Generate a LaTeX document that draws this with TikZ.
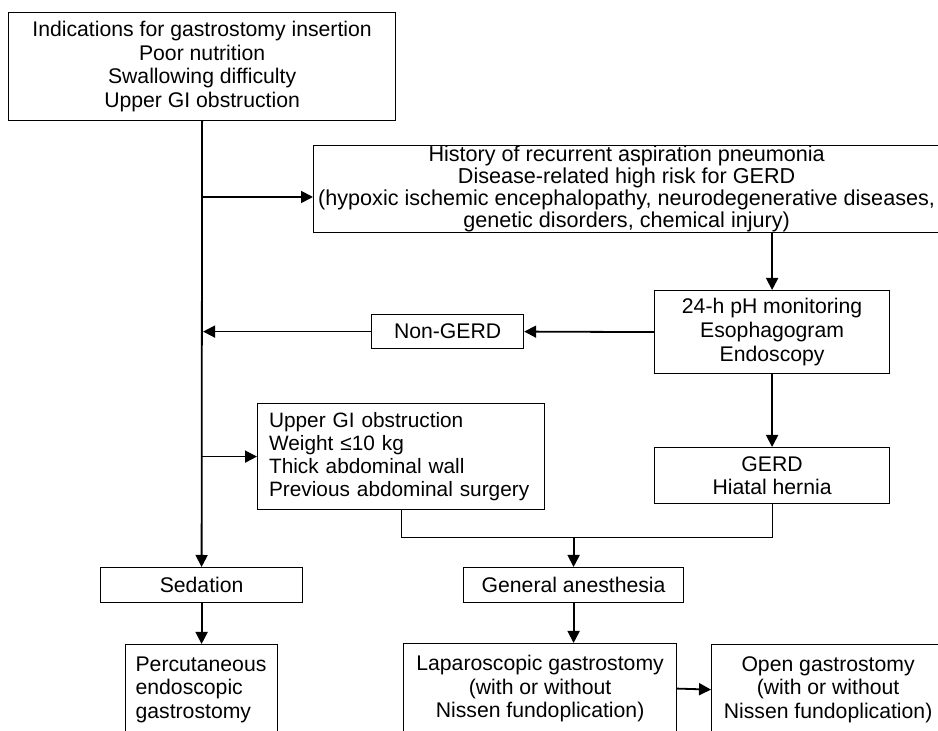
\documentclass[tikz,border=0pt]{standalone}
\usepackage{fontspec}
\setmainfont{Liberation Sans}
\usetikzlibrary{arrows.meta,calc,positioning}

\tikzset{
  flowbox/.style={draw,line width=0.6pt,anchor=north west,inner sep=0pt,align=center,
    font=\fontsize{10.6pt}{11.8pt}\selectfont},
  flowboxl/.style={flowbox,align=left},
  pfeil/.style={line width=0.9pt,-{Triangle[length=6pt,width=6pt]}},
  klammer/.style={line width=0.6pt},
}

\begin{document}
\begin{tikzpicture}[x=0.5pt,y=-0.5pt]
\useasboundingbox (0,0) rectangle (938,731);
\clip (0,0) rectangle (938,731);
%Kaestchen, Ecke oben links in Pixeln
\node[flowbox,minimum width=193.5pt,minimum height=54pt] (ind) at (8,12)
  {Indications for gastrostomy insertion\\Poor nutrition\\Swallowing difficulty\\Upper GI obstruction};
\node[flowbox,minimum width=313pt,minimum height=34pt,font=\fontsize{10.8pt}{9pt}\selectfont] (hist) at (313,145)
  {History of recurrent aspiration pneumonia\\Disease-related high risk for GERD\\(hypoxic ischemic encephalopathy, neurodegenerative diseases,\\genetic disorders, chemical injury)};
\node[flowbox,minimum width=117.5pt,minimum height=41.5pt] (ph) at (654,290)
  {24-h pH monitoring\\Esophagogram\\Endoscopy};
\node[flowbox,minimum width=76pt,minimum height=17pt] (nong) at (371,314) {Non-GERD};
\node[flowboxl,text width=132pt,inner xsep=5.75pt,minimum height=53pt,font=\fontsize{10.4pt}{11.6pt}\selectfont] (upgi) at (257,403)
  {Upper GI obstruction\\Weight ≤10 kg\\Thick abdominal wall\\\mbox{Previous abdominal surgery}};
\node[flowbox,minimum width=117.5pt,minimum height=28pt] (gerd) at (654,447) {GERD\\Hiatal hernia};
\node[flowbox,minimum width=101pt,minimum height=17.5pt] (sed) at (100,567) {Sedation};
\node[flowbox,minimum width=110pt,minimum height=17.5pt] (gen) at (463,567) {General anesthesia};
\node[flowboxl,text width=66pt,inner xsep=5pt,minimum height=45pt] (perc) at (125,644)
  {Percutaneous\\endoscopic\\gastrostomy};
\node[flowbox,minimum width=136.5pt,minimum height=45pt] (lap) at (403,643)
  {Laparoscopic gastrostomy\\(with or without\\Nissen fundoplication)};
\node[flowbox,minimum width=116.5pt,minimum height=45pt] (open) at (711,644)
  {Open gastrostomy\\(with or without\\Nissen fundoplication)};
%Verbindungen
\coordinate (y1) at (0,197);
\draw[pfeil] (ind.south) -- (sed.north);
\draw[pfeil] (ind.south |- y1) -- (hist.west |- y1);
\draw[pfeil] (hist.south -| ph.north) -- (ph.north);
\draw[pfeil] (ph.west) -- (nong.east);
\draw[pfeil] (nong.west) -- ($(nong.west -| ind.south)+(1,0)$);
\draw[pfeil] (upgi.west -| ind.south) -- (upgi.west);
\draw[pfeil] (ph.south) -- (gerd.north);
\path (upgi.south) ++(0,27) coordinate (knick);
\draw[klammer] (upgi.south) -- (knick) -| (gerd.south);
\draw[pfeil] (gen.north |- knick) -- (gen.north);
\draw[pfeil] (sed.south) -- (perc.north);
\draw[pfeil] (gen.south) -- (gen.south |- lap.north);
\draw[pfeil] (lap.east) -- (open.west);
\end{tikzpicture}
\end{document}
